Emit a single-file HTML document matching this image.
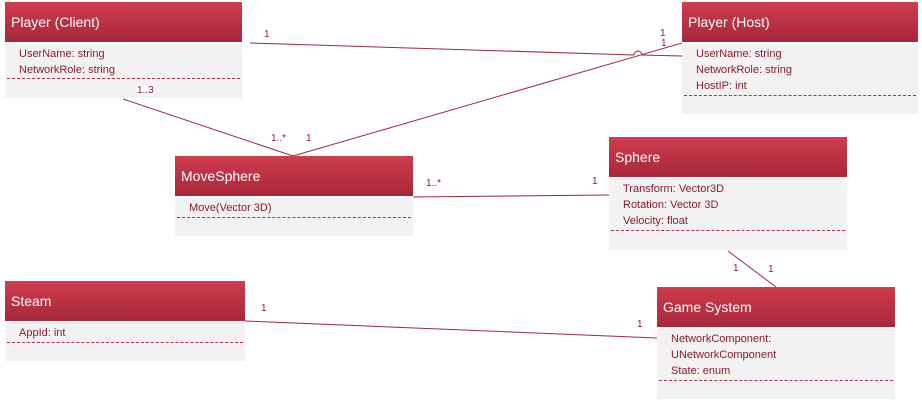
<!DOCTYPE html>
<html><head><meta charset="utf-8"><style>
body{margin:0;width:922px;height:402px;background:#fff;position:relative;overflow:hidden;font-family:"Liberation Sans",sans-serif}
.box{position:absolute}
.hd{background:linear-gradient(#cf3c4d,#a6283a);color:#fff;font-size:14px;box-sizing:border-box;padding-left:6px;display:flex;align-items:center;border-bottom:2px solid #fff}
.bd{background:#f2f2f2;position:relative;box-sizing:border-box;padding:2px 0 0 14px;font-size:11px;color:#8b1a2a;line-height:16px}
.dash{position:absolute;left:2px;right:2px;border-top:1px dashed #b03040}
.lbl{position:absolute;font-size:10px;color:#8b1a2a}
svg{position:absolute;left:0;top:0}
</style></head><body>
<svg width="922" height="402">
<g stroke="#9e2a3a" stroke-width="1" fill="none">
<path d="M250,43 L634,55 A4,4 0 0 1 642,55 L682,56"/>
<line x1="682" y1="43" x2="293" y2="156"/>
<line x1="123" y1="99" x2="293" y2="156"/>
<line x1="413" y1="197" x2="609" y2="195"/>
<line x1="728" y1="251" x2="776" y2="287"/>
<line x1="245" y1="321" x2="657" y2="338"/>
</g></svg>

<div class="box" style="left:5px;top:2px;width:237px">
<div class="hd" style="height:42px">Player (Client)</div>
<div class="bd" style="height:54px">UserName: string<br>NetworkRole: string<div class="dash" style="top:34px"></div></div></div>

<div class="box" style="left:682px;top:2px;width:236px">
<div class="hd" style="height:42px">Player (Host)</div>
<div class="bd" style="height:70px">UserName: string<br>NetworkRole: string<br>HostIP: int<div class="dash" style="top:51px"></div></div></div>

<div class="box" style="left:175px;top:156px;width:238px">
<div class="hd" style="height:42px">MoveSphere</div>
<div class="bd" style="height:38px">Move(Vector 3D)<div class="dash" style="top:19px"></div></div></div>

<div class="box" style="left:609px;top:137px;width:238px">
<div class="hd" style="height:42px">Sphere</div>
<div class="bd" style="height:71px">Transform: Vector3D<br>Rotation: Vector 3D<br>Velocity: float<div class="dash" style="top:51px"></div></div></div>

<div class="box" style="left:5px;top:281px;width:240px">
<div class="hd" style="height:42px">Steam</div>
<div class="bd" style="height:38px">AppId: int<div class="dash" style="top:19px"></div></div></div>

<div class="box" style="left:657px;top:287px;width:238px">
<div class="hd" style="height:42px">Game System</div>
<div class="bd" style="height:70px">NetworkComponent:<br>UNetworkComponent<br>State: enum<div class="dash" style="top:51px"></div></div></div>

<div class="lbl" style="left:264px;top:29px">1</div>
<div class="lbl" style="left:660px;top:28px">1</div>
<div class="lbl" style="left:661px;top:38px">1</div>
<div class="lbl" style="left:137px;top:85px;background:#fff">1..3</div>
<div class="lbl" style="left:271px;top:133px">1..*</div>
<div class="lbl" style="left:306px;top:133px">1</div>
<div class="lbl" style="left:426px;top:178px">1..*</div>
<div class="lbl" style="left:592px;top:176px">1</div>
<div class="lbl" style="left:733px;top:263px">1</div>
<div class="lbl" style="left:768px;top:264px">1</div>
<div class="lbl" style="left:261px;top:303px">1</div>
<div class="lbl" style="left:637px;top:319px">1</div>
</body></html>
